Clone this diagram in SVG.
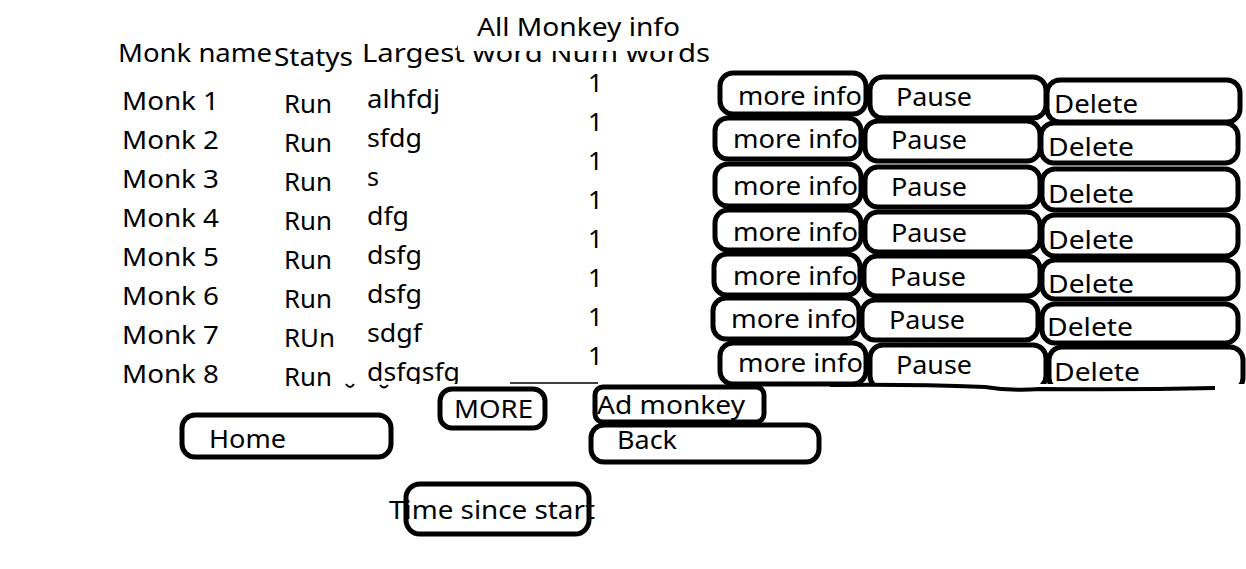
<svg xmlns="http://www.w3.org/2000/svg" width="1246" height="569" viewBox="0 0 1246 569">
<style>
text{font-family:"Noto Sans","Open Sans",sans-serif;font-size:26px;fill:#000}
.btn{fill:#fff;stroke:#000;stroke-width:5}
.ln{fill:none;stroke:#000}
</style>
<rect width="1246" height="569" fill="#fff"/>
<g id="header">
<text x="118" y="62" textLength="154" lengthAdjust="spacingAndGlyphs">Monk name</text>
<text x="274" y="66" textLength="79" lengthAdjust="spacingAndGlyphs">Statys</text>
<text x="362" y="62" textLength="348" lengthAdjust="spacingAndGlyphs">Largest word Num words</text>
<rect x="458" y="0" width="222" height="51" fill="#fff"/>
<text x="477" y="36" textLength="203" lengthAdjust="spacingAndGlyphs">All Monkey info</text>
</g>
<g id="names">
<text x="122" y="110" textLength="97" lengthAdjust="spacingAndGlyphs">Monk 1</text>
<text x="122" y="149" textLength="97" lengthAdjust="spacingAndGlyphs">Monk 2</text>
<text x="122" y="188" textLength="97" lengthAdjust="spacingAndGlyphs">Monk 3</text>
<text x="122" y="227" textLength="97" lengthAdjust="spacingAndGlyphs">Monk 4</text>
<text x="122" y="266" textLength="97" lengthAdjust="spacingAndGlyphs">Monk 5</text>
<text x="122" y="305" textLength="97" lengthAdjust="spacingAndGlyphs">Monk 6</text>
<text x="122" y="344" textLength="97" lengthAdjust="spacingAndGlyphs">Monk 7</text>
<text x="122" y="383" textLength="97" lengthAdjust="spacingAndGlyphs">Monk 8</text>
</g>
<g id="status">
<text x="284" y="113" textLength="48" lengthAdjust="spacingAndGlyphs">Run</text>
<text x="284" y="152" textLength="48" lengthAdjust="spacingAndGlyphs">Run</text>
<text x="284" y="191" textLength="48" lengthAdjust="spacingAndGlyphs">Run</text>
<text x="284" y="230" textLength="48" lengthAdjust="spacingAndGlyphs">Run</text>
<text x="284" y="269" textLength="48" lengthAdjust="spacingAndGlyphs">Run</text>
<text x="284" y="308" textLength="48" lengthAdjust="spacingAndGlyphs">Run</text>
<text x="284" y="347" textLength="51" lengthAdjust="spacingAndGlyphs">RUn</text>
<text x="284" y="386" textLength="48" lengthAdjust="spacingAndGlyphs">Run</text>
</g>
<g id="words">
<text x="367" y="108" textLength="73" lengthAdjust="spacingAndGlyphs">alhfdj</text>
<text x="367" y="147" textLength="55" lengthAdjust="spacingAndGlyphs">sfdg</text>
<text x="367" y="186" textLength="12" lengthAdjust="spacingAndGlyphs">s</text>
<text x="367" y="225" textLength="42" lengthAdjust="spacingAndGlyphs">dfg</text>
<text x="367" y="264" textLength="55" lengthAdjust="spacingAndGlyphs">dsfg</text>
<text x="367" y="303" textLength="55" lengthAdjust="spacingAndGlyphs">dsfg</text>
<text x="367" y="342" textLength="55" lengthAdjust="spacingAndGlyphs">sdgf</text>
<text x="367" y="381" textLength="93" lengthAdjust="spacingAndGlyphs">dsfgsfg</text>
<rect x="360" y="384" width="110" height="8" fill="#fff"/>
<path class="ln" stroke-width="2" d="M346,384 q4,6 8,0 M380,385 q4,5 8,0"/>
</g>
<g id="counts">
<text x="588" y="92">1</text>
<text x="588" y="131">1</text>
<text x="588" y="170">1</text>
<text x="588" y="209">1</text>
<text x="588" y="248">1</text>
<text x="588" y="287">1</text>
<text x="588" y="326">1</text>
<text x="588" y="365">1</text>
</g>
<g id="row1">
<rect class="btn" x="720" y="73" width="146" height="41" rx="13"/>
<text x="738" y="105" textLength="124" lengthAdjust="spacingAndGlyphs">more info</text>
<rect class="btn" x="870" y="77" width="176" height="41" rx="13"/>
<text x="896" y="106" textLength="76" lengthAdjust="spacingAndGlyphs">Pause</text>
<rect class="btn" x="1047" y="80" width="193" height="42" rx="13"/>
<text x="1054" y="113" textLength="84" lengthAdjust="spacingAndGlyphs">Delete</text>
</g>
<g id="row2">
<rect class="btn" x="715" y="118" width="146" height="41" rx="13"/>
<text x="733" y="148" textLength="125" lengthAdjust="spacingAndGlyphs">more info</text>
<rect class="btn" x="865" y="121" width="175" height="40" rx="13"/>
<text x="891" y="149" textLength="76" lengthAdjust="spacingAndGlyphs">Pause</text>
<rect class="btn" x="1041" y="123" width="197" height="40" rx="13"/>
<text x="1048" y="156" textLength="86" lengthAdjust="spacingAndGlyphs">Delete</text>
</g>
<g id="row3">
<rect class="btn" x="715" y="164" width="146" height="42" rx="13"/>
<text x="733" y="195" textLength="125" lengthAdjust="spacingAndGlyphs">more info</text>
<rect class="btn" x="865" y="167" width="175" height="40" rx="13"/>
<text x="891" y="196" textLength="76" lengthAdjust="spacingAndGlyphs">Pause</text>
<rect class="btn" x="1042" y="169" width="196" height="41" rx="13"/>
<text x="1048" y="203" textLength="86" lengthAdjust="spacingAndGlyphs">Delete</text>
</g>
<g id="row4">
<rect class="btn" x="715" y="210" width="146" height="40" rx="13"/>
<text x="733" y="241" textLength="125" lengthAdjust="spacingAndGlyphs">more info</text>
<rect class="btn" x="865" y="212" width="175" height="40" rx="13"/>
<text x="891" y="242" textLength="76" lengthAdjust="spacingAndGlyphs">Pause</text>
<rect class="btn" x="1042" y="215" width="196" height="41" rx="13"/>
<text x="1048" y="249" textLength="86" lengthAdjust="spacingAndGlyphs">Delete</text>
</g>
<g id="row5">
<rect class="btn" x="714" y="254" width="146" height="41" rx="13"/>
<text x="733" y="285" textLength="125" lengthAdjust="spacingAndGlyphs">more info</text>
<rect class="btn" x="864" y="256" width="176" height="40" rx="13"/>
<text x="890" y="286" textLength="76" lengthAdjust="spacingAndGlyphs">Pause</text>
<rect class="btn" x="1042" y="260" width="196" height="39" rx="13"/>
<text x="1048" y="293" textLength="86" lengthAdjust="spacingAndGlyphs">Delete</text>
</g>
<g id="row6">
<rect class="btn" x="713" y="298" width="146" height="41" rx="13"/>
<text x="731" y="328" textLength="126" lengthAdjust="spacingAndGlyphs">more info</text>
<rect class="btn" x="862" y="300" width="176" height="40" rx="13"/>
<text x="889" y="329" textLength="76" lengthAdjust="spacingAndGlyphs">Pause</text>
<rect class="btn" x="1042" y="304" width="196" height="39" rx="13"/>
<text x="1047" y="336" textLength="86" lengthAdjust="spacingAndGlyphs">Delete</text>
</g>
<g id="row7">
<rect class="btn" x="720" y="343" width="146" height="41" rx="13"/>
<text x="738" y="372" textLength="125" lengthAdjust="spacingAndGlyphs">more info</text>
<rect class="btn" x="870" y="345" width="176" height="44" rx="13"/>
<text x="896" y="374" textLength="76" lengthAdjust="spacingAndGlyphs">Pause</text>
<rect class="btn" x="1049" y="347" width="194" height="44" rx="13"/>
<text x="1054" y="381" textLength="86" lengthAdjust="spacingAndGlyphs">Delete</text>
<rect x="866" y="384" width="380" height="12" fill="#fff"/>
</g>
<g id="connectors">
<path class="ln" stroke-width="1.5" d="M510,383 H598"/>
<path class="ln" stroke-width="4" d="M830,385 Q910,384 985,387 Q1010,391 1040,389 Q1130,390 1215,388"/>
</g>
<g id="more">
<rect class="btn" x="440" y="389" width="105" height="39" rx="12"/>
<text x="454" y="418" textLength="79" lengthAdjust="spacingAndGlyphs">MORE</text>
</g>
<g id="admonkey">
<rect class="btn" x="595" y="387" width="169" height="35" rx="8"/>
<text x="597" y="414" textLength="148" lengthAdjust="spacingAndGlyphs">Ad monkey</text>
</g>
<g id="home">
<rect class="btn" x="182" y="415" width="209" height="42" rx="13"/>
<text x="209" y="448" textLength="77" lengthAdjust="spacingAndGlyphs">Home</text>
</g>
<g id="back">
<rect class="btn" x="591" y="425" width="228" height="37" rx="13"/>
<text x="617" y="449" textLength="60" lengthAdjust="spacingAndGlyphs">Back</text>
</g>
<g id="time">
<rect class="btn" x="406" y="484" width="183" height="50" rx="14"/>
<text x="389" y="519" textLength="206" lengthAdjust="spacingAndGlyphs">Time since start</text>
</g>
</svg>
